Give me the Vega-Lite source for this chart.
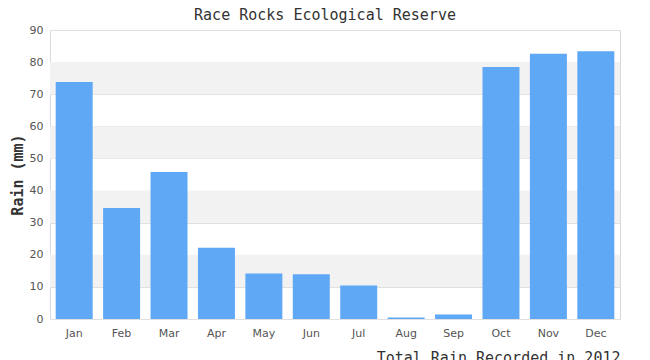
{
  "$schema": "https://vega.github.io/schema/vega-lite/v6.json",
  "autosize": {"type": "none"},
  "width": 570,
  "height": 289,
  "padding": {"left": 50, "top": 30, "right": 30, "bottom": 41},
  "background": "white",
  "title": {
    "text": "Race Rocks Ecological Reserve",
    "font": "DejaVu Sans Mono",
    "fontSize": 15,
    "fontWeight": "normal",
    "color": "#333333",
    "anchor": "middle",
    "offset": 1,
    "dx": -10
  },
  "config": {
    "view": {"stroke": "#d9d9d9", "strokeWidth": 1},
    "axis": {
      "labelFont": "DejaVu Sans",
      "labelFontSize": 11,
      "labelColor": "#555555",
      "ticks": false,
      "domain": false,
      "titleFont": "DejaVu Sans Mono",
      "titleFontSize": 15,
      "titleColor": "#333333"
    },
    "axisY": {"labelOverlap": false, "tickCount": 10}
  },
  "datasets": {
    "rain": [
      {"month": "Jan", "rain": 73.8},
      {"month": "Feb", "rain": 34.6},
      {"month": "Mar", "rain": 45.8},
      {"month": "Apr", "rain": 22.2},
      {"month": "May", "rain": 14.2},
      {"month": "Jun", "rain": 13.9},
      {"month": "Jul", "rain": 10.4},
      {"month": "Aug", "rain": 0.5},
      {"month": "Sep", "rain": 1.4},
      {"month": "Oct", "rain": 78.5},
      {"month": "Nov", "rain": 82.6},
      {"month": "Dec", "rain": 83.4}
    ],
    "bands": [
      {"lo": 10, "hi": 20},
      {"lo": 30, "hi": 40},
      {"lo": 50, "hi": 60},
      {"lo": 70, "hi": 80}
    ]
  },
  "layer": [
    {
      "data": {"name": "bands"},
      "mark": {"type": "rect", "color": "#f2f2f2"},
      "encoding": {
        "y": {
          "field": "lo",
          "type": "quantitative",
          "scale": {"domain": [0, 90], "nice": false},
          "axis": {
            "title": "Rain (mm)",
            "titleFontWeight": "bold",
            "titlePadding": 4,
            "values": [0, 10, 20, 30, 40, 50, 60, 70, 80, 90],
            "labelOverlap": false,
            "labelPadding": 7,
            "grid": true,
            "gridColor": "#e0e0e0"
          }
        },
        "y2": {"field": "hi"}
      }
    },
    {
      "data": {"name": "rain"},
      "mark": {"type": "bar", "color": "#5fa8f5"},
      "encoding": {
        "x": {
          "field": "month",
          "type": "nominal",
          "sort": null,
          "scale": {"paddingInner": 0.22, "paddingOuter": 0.12},
          "axis": {
            "title": "Total Rain Recorded in 2012",
            "titleAnchor": "end",
            "titleFontWeight": "normal",
            "titlePadding": 12,
            "labelAngle": 0,
            "labelPadding": 8,
            "grid": false
          }
        },
        "y": {
          "field": "rain",
          "type": "quantitative",
          "scale": {"domain": [0, 90], "nice": false},
          "axis": {
            "title": "Rain (mm)",
            "titleFontWeight": "bold",
            "titlePadding": 4,
            "values": [0, 10, 20, 30, 40, 50, 60, 70, 80, 90],
            "labelOverlap": false,
            "labelPadding": 7,
            "grid": true,
            "gridColor": "#e0e0e0"
          }
        }
      }
    }
  ]
}
